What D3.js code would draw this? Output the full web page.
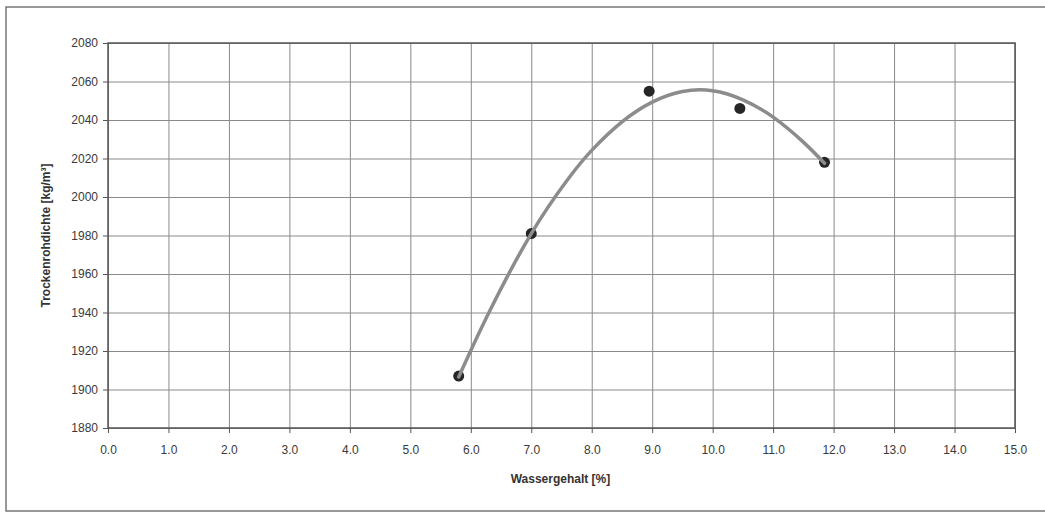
<!DOCTYPE html>
<html>
<head>
<meta charset="utf-8">
<style>
  body { margin: 0; background: #fff; }
  svg { display: block; font-family: "Liberation Sans", Arial, sans-serif; }
  .tick text { fill: #3a3a3a; font-size: 12px; }
  .grid line { stroke: #8a8a8a; stroke-width: 1; }
  .grid .domain { display: none; }
</style>
<script src="https://cdn.jsdelivr.net/npm/d3@7"></script>
</head>
<body>
<svg id="chart"></svg>
<script>
// measured points
var wasser = [5.8, 7.0, 8.95, 10.45, 11.85];
var dichte = [1907, 1981, 2055, 2046, 2018];

// polynomial trend line
var trendX = [5.8, 6.3, 7.0, 7.6, 8.0, 8.5, 9.0, 9.5, 10.0, 10.5, 11.0, 11.5, 11.85];
var trendY = [1906.5, 1940, 1981, 2009, 2024.2, 2039, 2049.3, 2054.8, 2055.2, 2050.5, 2041.5, 2028.5, 2017.5];

var xTicks = d3.range(0, 15.01, 1);
var yTicks = d3.range(1880, 2081, 20);

var W = 1045, H = 513;
var margin = {top: 43, right: 30, bottom: 85, left: 108},
    width = 1015 - margin.left,
    height = 428 - margin.top;

var svg = d3.select('#chart').attr('width', W).attr('height', H);

// outer frame of the chart object
svg.append('rect')
  .attr('x', 6).attr('y', 7)
  .attr('width', W + 10).attr('height', 504)
  .attr('fill', 'none').attr('stroke', '#777').attr('stroke-width', 1.5);

var g = svg.append('g')
  .attr('transform', 'translate(' + margin.left + ',' + margin.top + ')');

var x = d3.scaleLinear().domain([0, 15]).range([0, width]);
var y = d3.scaleLinear().domain([1880, 2080]).range([height, 0]);

// grid
g.append('g').attr('class', 'grid')
  .call(d3.axisBottom(x).tickValues(xTicks).tickSize(height).tickFormat(''));
g.append('g').attr('class', 'grid')
  .call(d3.axisLeft(y).tickValues(yTicks).tickSize(-width).tickFormat(''));

// plot border
g.append('rect')
  .attr('width', width).attr('height', height)
  .attr('fill', 'none').attr('stroke', '#555').attr('stroke-width', 1.5);

// axes
var xAxis = g.append('g')
  .attr('transform', 'translate(0,' + height + ')')
  .call(d3.axisBottom(x).tickValues(xTicks).tickSize(5).tickPadding(12)
    .tickFormat(d3.format('.1f')));
var yAxis = g.append('g')
  .call(d3.axisLeft(y).tickValues(yTicks).tickSize(5).tickPadding(5)
    .tickFormat(d3.format('d')));
xAxis.select('.domain').remove();
yAxis.select('.domain').remove();
g.selectAll('.tick line').attr('stroke', '#555');

// points
g.selectAll('.pt')
  .data(wasser.map((w, i) => [w, dichte[i]]))
  .enter().append('circle')
    .attr('class', 'pt')
    .attr('cx', d => x(d[0]))
    .attr('cy', d => y(d[1]))
    .attr('r', 5.5)
    .attr('fill', '#262626');

// trend curve drawn over the points
var line = d3.line()
  .x(d => x(d[0]))
  .y(d => y(d[1]))
  .curve(d3.curveNatural);
g.append('path')
  .datum(trendX.map((t, i) => [t, trendY[i]]))
  .attr('d', line)
  .attr('fill', 'none')
  .attr('stroke', '#8c8c8c')
  .attr('stroke-width', 3.5)
  .attr('stroke-linecap', 'round');

// axis titles
svg.append('text')
  .attr('x', margin.left + width / 2 - 1)
  .attr('y', 483)
  .attr('text-anchor', 'middle')
  .attr('font-size', 12).attr('font-weight', 'bold').attr('fill', '#333')
  .text('Wassergehalt [%]');

svg.append('text')
  .attr('transform', 'translate(50,' + (margin.top + height / 2) + ') rotate(-90)')
  .attr('text-anchor', 'middle')
  .attr('font-size', 12).attr('font-weight', 'bold').attr('fill', '#333')
  .text('Trockenrohdichte [kg/m³]');
</script>
</body>
</html>
